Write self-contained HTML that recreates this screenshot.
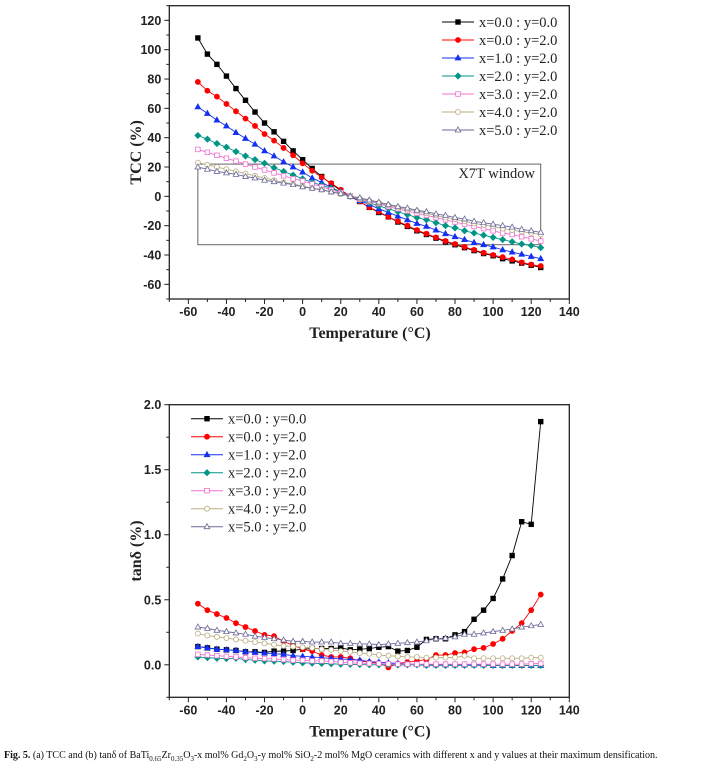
<!DOCTYPE html>
<html><head><meta charset="utf-8"><style>
html,body{margin:0;padding:0;background:#fff;}
body{width:708px;height:769px;overflow:hidden;position:relative;}
svg{position:absolute;left:0;top:0;}
.cap{position:absolute;left:4px;top:750px;font-family:"Liberation Serif",serif;font-size:10px;white-space:nowrap;color:#111;}
</style></head><body>
<svg id="chart" width="708" height="769" xmlns="http://www.w3.org/2000/svg"></svg>
<div class="cap"><b>Fig. 5.</b> (a) TCC and (b) tanδ of BaTi<sub style="font-size:7px">0.65</sub>Zr<sub style="font-size:7px">0.35</sub>O<sub style="font-size:7px">3</sub>-x mol% Gd<sub style="font-size:7px">2</sub>O<sub style="font-size:7px">3</sub>-y mol% SiO<sub style="font-size:7px">2</sub>-2 mol% MgO ceramics with different x and y values at their maximum densification.</div>
<script>
const temps=[-55,-50,-45,-40,-35,-30,-25,-20,-15,-10,-5,0,5,10,15,20,25,30,35,40,45,50,55,60,65,70,75,80,85,90,95,100,105,110,115,120,125];
const seriesLabels=["x=0.0 : y=0.0","x=0.0 : y=2.0","x=1.0 : y=2.0","x=2.0 : y=2.0","x=3.0 : y=2.0","x=4.0 : y=2.0","x=5.0 : y=2.0"];
const tccS1=[108,97,90,82,73.5,65.5,57.5,50,44,37.5,31,25,19,13.5,8.5,4,0,-3.5,-7.5,-11,-14,-17.5,-20.5,-23.5,-26,-28.5,-31,-33,-35,-37,-39,-40.5,-42.5,-44,-45.5,-47,-48.5];
const tccS2=[78,72,68,63,58,53,48,42.5,38,33,28,22.5,17.5,13,9,4.5,0,-3.5,-7.5,-10.5,-14,-17,-20,-23,-25.5,-28,-30.5,-32.5,-34.5,-36.5,-38.5,-40,-41.5,-43,-45,-46.5,-47.5];
const tccS3=[61,56.5,52,48,43.5,39.5,35.5,31,27.5,23.5,20,16.5,12.5,9.5,6,3,0,-3,-5.5,-8.5,-11,-13.5,-16,-18.5,-20.5,-23,-25.5,-27.5,-29.5,-31.5,-33,-34.5,-36.5,-38,-39.5,-41,-42.5];
const tccS4=[41.5,39,36,33.5,30.5,27.5,25,22.5,19.5,17,14.5,12,9.5,7.5,5.5,3,0,-2.5,-4.5,-6.5,-8.5,-10.5,-12.5,-14.5,-16,-18,-20,-21.5,-23.5,-25,-26.5,-28,-29.5,-31,-32.5,-33.5,-35];
const tccS5=[32,30,28,26,24,22,20,18,16,14,12,10.5,8.5,6.5,4.5,2.5,0,-2,-3.5,-5,-7,-8.5,-10,-11.5,-13,-14.5,-16,-17.5,-19,-20.5,-22,-23.5,-25,-26,-27.5,-29,-30.5];
const tccS6=[23,21.5,20,18.5,17,15.5,14,12.5,11,9.5,8.5,7,5.5,4.5,3,1.5,0,-1.5,-3,-4.5,-6,-7.5,-9,-10,-11.5,-13,-14.5,-15.5,-17,-18.5,-19.5,-20.5,-22,-23,-24,-25,-26];
const tccS7=[20,18.5,17,16,15,13.5,12.5,11,10,9,8,6.5,5.5,4.5,3,2,0,-1,-2.5,-4,-5.5,-7,-8,-9.5,-10.5,-12,-13,-14.5,-15.5,-17,-18,-19,-20,-21,-22.5,-23.5,-24.5];
const tanS1=[.14,.13,.12,.115,.11,.10,.10,.095,.105,.105,.11,.12,.125,.125,.125,.13,.115,.12,.125,.135,.14,.105,.11,.135,.195,.20,.20,.23,.255,.35,.42,.51,.66,.84,1.10,1.08,1.87];
const tanS2=[.47,.42,.39,.36,.32,.29,.26,.23,.22,.18,.15,.12,.105,.075,.06,.06,.05,.03,.02,.015,-.02,.01,.02,.03,.04,.075,.075,.09,.095,.12,.13,.16,.20,.26,.32,.42,.54];
const tanS3=[.14,.13,.12,.115,.11,.10,.095,.09,.085,.08,.07,.065,.06,.055,.05,.045,.04,.035,.025,.02,.015,.01,.005,.005,0,0,0,0,0,0,0,-.005,-.005,-.005,-.005,-.005,-.005];
const tanS4=[.06,.055,.05,.048,.05,.04,.035,.03,.028,.025,.02,.015,.012,.01,.008,.005,.003,.002,0,0,0,-.002,0,0,-.005,-.005,-.005,-.005,-.005,-.005,-.005,-.005,-.005,-.005,-.005,-.005,-.005];
const tanS5=[.08,.075,.07,.065,.06,.055,.05,.048,.045,.04,.035,.035,.03,.03,.025,.02,.015,.012,.01,.01,.008,.005,.005,.005,.005,.005,.005,.005,.005,.005,.005,.005,.005,.005,.005,.008,.01];
const tanS6=[.24,.225,.215,.205,.195,.185,.175,.165,.155,.145,.14,.135,.13,.12,.115,.105,.10,.09,.085,.075,.07,.065,.06,.06,.055,.055,.055,.055,.07,.05,.05,.05,.05,.05,.05,.055,.055];
const tanS7=[.29,.28,.265,.255,.245,.235,.22,.21,.20,.19,.18,.18,.175,.175,.175,.165,.165,.16,.16,.155,.16,.165,.17,.175,.185,.20,.205,.215,.235,.235,.245,.255,.265,.275,.29,.30,.31];
const xTicks=[-60,-40,-20,0,20,40,60,80,100,120,140];
const tccTicks=[-60,-40,-20,0,20,40,60,80,100,120];
const tanTicks=[0.0,0.5,1.0,1.5,2.0];
const x7t=[-55,125,-33,22];

const NS="http://www.w3.org/2000/svg";
const svg=document.getElementById('chart');
function el(tag,attrs,parent){const e=document.createElementNS(NS,tag);for(const k in attrs)e.setAttribute(k,attrs[k]);(parent||svg).appendChild(e);return e;}
const colors=["#000","#f00","#1530f0","#009585","#f070d0","#b8ad80","#6a6a98"];
const markers=["sq","ci","tr","di","osq","oci","otr"];
function marker(g,type,x,y,c){let e;const f=type[0]==='o'?'#fff':c;const t=type.replace(/^o(?=sq|ci|tr)/,'');
 if(t==='sq')e=el('rect',{x:x-2.3,y:y-2.3,width:4.6,height:4.6,fill:f,stroke:c,'stroke-width':0.8},g);
 else if(t==='ci')e=el('circle',{cx:x,cy:y,r:2.5,fill:f,stroke:c,'stroke-width':0.8},g);
 else if(t==='tr')e=el('polygon',{points:`${x},${y-3} ${x-2.8},${y+2} ${x+2.8},${y+2}`,fill:f,stroke:c,'stroke-width':0.8},g);
 else e=el('polygon',{points:`${x},${y-3} ${x-3},${y} ${x},${y+3} ${x+3},${y}`,fill:f,stroke:c,'stroke-width':0.8},g);
 
 
}
function chart(name,top,bottom,ymin,ymax,yticks,yminor,fmt,data,ytitle,legX,legY){
 const L=169.3,R=569.3;
 const sx=v=>L+(v+70)/210*(R-L);
 const sy=v=>bottom-(v-ymin)/(ymax-ymin)*(bottom-top);
 const g=el('g',{});
 
 
 const frame=el('rect',{x:L,y:top,width:R-L,height:bottom-top,fill:'none',stroke:'#222','stroke-width':1.3},g);
 
 
 const xa=el('g',{},g);
 
 
 for(let v=-70;v<=140;v+=10){const maj=xTicks.includes(v);el('line',{x1:sx(v),x2:sx(v),y1:bottom,y2:bottom+(maj?5:3),stroke:'#222','stroke-width':1},xa);}
 xTicks.forEach(v=>{const t=el('text',{x:sx(v),y:bottom+17,'text-anchor':'middle','font-family':'Liberation Sans,sans-serif','font-weight':'bold','font-size':12.5,fill:'#222'},xa);t.textContent=v;
  
  });
 const xt=el('text',{x:370,y:bottom+39,'text-anchor':'middle','font-family':'Liberation Serif,serif','font-weight':'bold','font-size':16,fill:'#222'},g);xt.textContent='Temperature (°C)';
 
 
 const ya=el('g',{},g);
 
 
 yminor.forEach(v=>{if(sy(v)>=top-0.5&&sy(v)<=bottom+0.5)el('line',{x1:L,x2:L-3,y1:sy(v),y2:sy(v),stroke:'#222','stroke-width':1},ya);});
 yticks.forEach(v=>{el('line',{x1:L,x2:L-5,y1:sy(v),y2:sy(v),stroke:'#222','stroke-width':1},ya);
  const t=el('text',{x:L-8,y:sy(v)+4.5,'text-anchor':'end','font-family':'Liberation Sans,sans-serif','font-weight':'bold','font-size':12.5,fill:'#222'},ya);t.textContent=fmt(v);
  
  });
 const yc=(top+bottom)/2;
 const yt=el('text',{x:0,y:0,transform:`translate(141,${yc}) rotate(-90)`,'text-anchor':'middle','font-family':'Liberation Serif,serif','font-weight':'bold','font-size':16,fill:'#222'},g);yt.textContent=ytitle;
 
 
 return {g,sx,sy,L,R};
}
function series(c,data,legX,legY){
 data.forEach((d,i)=>{const s=el('g',{},c.g);
  
  
  el('polyline',{points:temps.map((t,j)=>c.sx(t)+','+c.sy(d[j])).join(' '),fill:'none',stroke:colors[i],'stroke-width':0.9},s);
  temps.forEach((t,j)=>marker(s,markers[i],c.sx(t),c.sy(d[j]),colors[i]));});
 const lg=el('g',{},c.g);
 
 
 seriesLabels.forEach((lab,i)=>{const y=legY+i*18;const e=el('g',{},lg);
  
  
  el('line',{x1:legX,x2:legX+32,y1:y,y2:y,stroke:colors[i],'stroke-width':1},e);
  marker(e,markers[i],legX+16,y,colors[i]);
  const t=el('text',{x:legX+37,y:y+5,'font-family':'Liberation Serif,serif','font-size':14.5,fill:'#222'},e);t.textContent=lab;});
}
const c1=chart('tcc-chart',5.7,299,-70,130,tccTicks,[-70,-50,-30,-10,10,30,50,70,90,110,130],v=>v,null,'TCC (%)');
const win=el('rect',{x:c1.sx(x7t[0]),y:c1.sy(x7t[3]),width:c1.sx(x7t[1])-c1.sx(x7t[0]),height:c1.sy(x7t[2])-c1.sy(x7t[3]),fill:'none',stroke:'#555','stroke-width':0.9},c1.g);


const wt=el('text',{x:535,y:178,'text-anchor':'end','font-family':'Liberation Serif,serif','font-size':14.5,fill:'#222'},c1.g);wt.textContent='X7T window';


series(c1,[tccS1,tccS2,tccS3,tccS4,tccS5,tccS6,tccS7],442,22);
const c2=chart('tan-delta-chart',404.7,697.3,-0.25,2.0,tanTicks,[-0.25,0.25,0.75,1.25,1.75],v=>v.toFixed(1),null,'tanδ (%)');
series(c2,[tanS1,tanS2,tanS3,tanS4,tanS5,tanS6,tanS7],191,418.7);
</script>
</body></html>
